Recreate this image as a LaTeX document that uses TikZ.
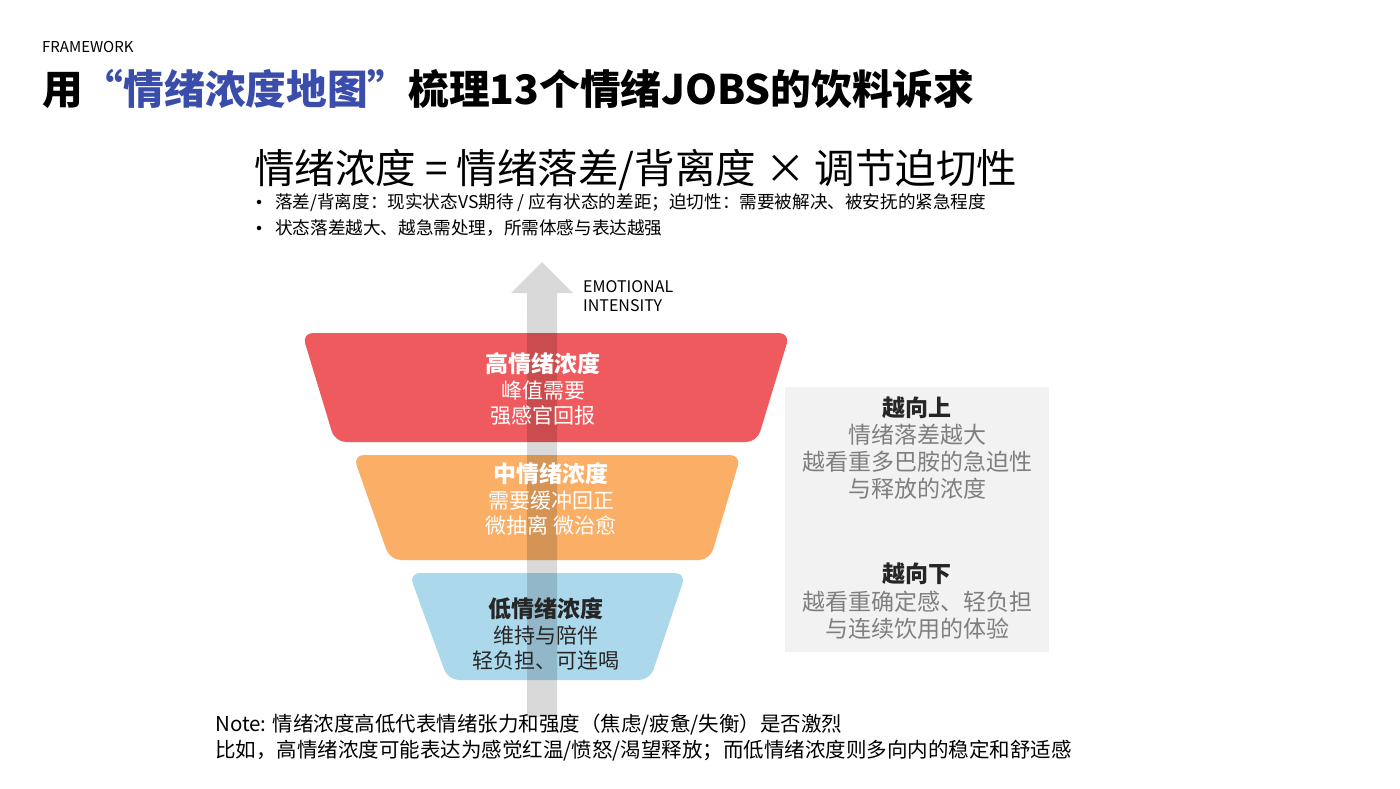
\documentclass[tikz,border=0pt]{standalone}
\usepackage{fontspec}
\setmainfont{Noto Sans CJK SC}
\definecolor{titleblue}{RGB}{59,77,170}
\definecolor{hired}{RGB}{238,90,94}
\definecolor{midorange}{RGB}{250,174,102}
\definecolor{lowblue}{RGB}{172,216,236}
\definecolor{boxgray}{RGB}{242,242,242}
\definecolor{softtext}{RGB}{127,127,127}
\definecolor{darktext}{RGB}{38,38,38}
\newcommand\setfs[1]{\fontsize{#1}{#1}\selectfont}
\begin{document}
\begin{tikzpicture}[x=1pt,y=-1pt,
  txt/.style={inner sep=0pt, anchor=base},
  txtw/.style={inner sep=0pt, anchor=base west},
  tier/.style={rounded corners=11pt},
  bulletdot/.style={circle, fill=black, inner sep=0pt, minimum size=4.5pt},
  headw/.style={txt, text=white, font=\setfs{23}\bfseries},
  linew/.style={txt, text=white, font=\setfs{21}},
  headd/.style={txt, text=darktext, font=\setfs{23}\bfseries},
  lined/.style={txt, text=darktext, font=\setfs{21}},
  boxhead/.style={txt, text=darktext, font=\setfs{23}\bfseries},
  boxline/.style={txt, text=softtext, font=\setfs{23}}]
\useasboundingbox (0,0) rectangle (1400,788);
\fill[white] (0,0) rectangle (1400,788);

% header
\node[txtw, font=\setfs{15}] (fw) at (42,52) {FRAMEWORK};
\node[txtw, font=\setfs{40.7}\bfseries] (title) at (42,104) {用{\color{titleblue}“情绪浓度地图”}梳理13个情绪JOBS的饮料诉求};

% formula
\node[txtw, font=\setfs{40.5}] (formula) at (254,183) {情绪浓度 = 情绪落差/背离度 × 调节迫切性};
\node[bulletdot] (b1dot) at (259,202) {};
\node[txtw, font=\setfs{17.6}] (b1) at (275,208) {落差/背离度：现实状态VS期待 / 应有状态的差距；迫切性：需要被解决、被安抚的紧急程度};
\node[bulletdot] (b2dot) at (259,228) {};
\node[txtw, font=\setfs{17.6}] (b2) at (275,234) {状态落差越大、越急需处理，所需体感与表达越强};

% grey side box
\fill[boxgray] (785,387) rectangle (1049,652);

% tiers
\fill[hired, tier] (302,333) -- (790,333) -- (757,442) -- (335,442) -- cycle;
\fill[midorange, tier] (353,455) -- (741,455) -- (710,560) -- (390,560) -- cycle;
\fill[lowblue, tier] (409,573) -- (686,573) -- (650,680) -- (448,680) -- cycle;

% arrow
\fill[black, opacity=0.15] (527,717) -- (527,293) -- (511,293) -- (542,262) -- (573,293) -- (557,293) -- (557,717) -- cycle;
\node[txtw, font=\setfs{16}] (ei1) at (583,292) {EMOTIONAL};
\node[txtw, font=\setfs{16}] (ei2) at (583,311) {INTENSITY};

% tier texts
\node[headw] (h1) at (543,372) {高情绪浓度};
\node[linew] (h2) at (543,398) {峰值需要};
\node[linew] (h3) at (543,423) {强感官回报};

\node[headw] (m1) at (551,482) {中情绪浓度};
\node[linew] (m2) at (551,508) {需要缓冲回正};
\node[linew] (m3) at (551,533) {微抽离 微治愈};

\node[headd] (l1) at (546,617) {低情绪浓度};
\node[lined] (l2) at (546,643) {维持与陪伴};
\node[lined] (l3) at (546,668) {轻负担、可连喝};

% box texts
\node[boxhead] (u1) at (917,416) {越向上};
\node[boxline] (u2) at (917,443) {情绪落差越大};
\node[boxline] (u3) at (917,470) {越看重多巴胺的急迫性};
\node[boxline] (u4) at (917,497) {与释放的浓度};
\node[boxhead] (d1) at (917,582) {越向下};
\node[boxline] (d2) at (917,610) {越看重确定感、轻负担};
\node[boxline] (d3) at (917,637) {与连续饮用的体验};

% notes
\node[txtw, font=\setfs{20.5}] (n1) at (215,731) {Note: 情绪浓度高低代表情绪张力和强度（焦虑/疲惫/失衡）是否激烈};
\node[txtw, font=\setfs{20.5}] (n2) at (215,757) {比如，高情绪浓度可能表达为感觉红温/愤怒/渴望释放；而低情绪浓度则多向内的稳定和舒适感};
\end{tikzpicture}
\end{document}
